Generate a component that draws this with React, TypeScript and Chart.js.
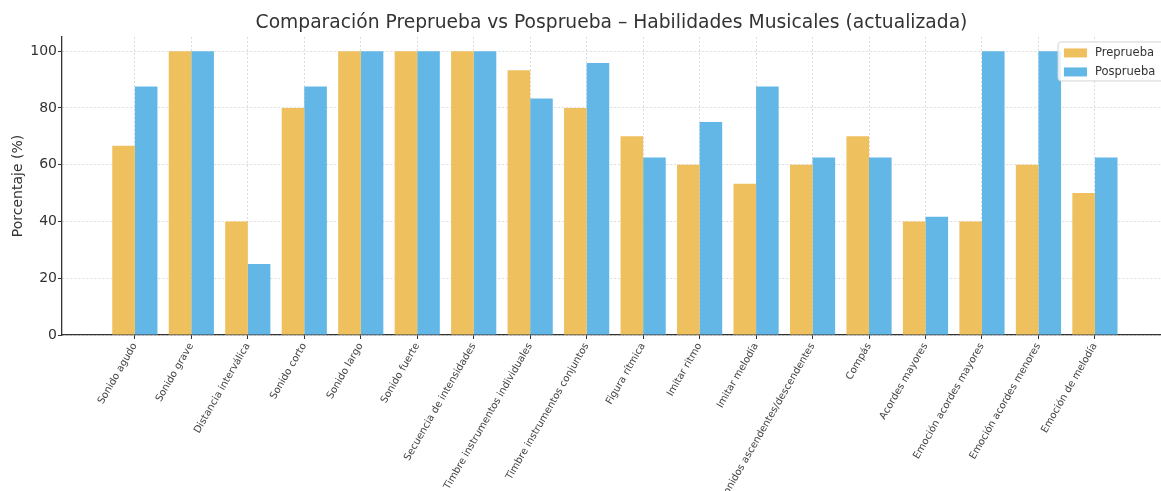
import React, { useEffect, useRef } from "react";
import { Chart, registerables } from "chart.js";

Chart.register(...registerables);

const categories = [
  "Sonido agudo",
  "Sonido grave",
  "Distancia interválica",
  "Sonido corto",
  "Sonido largo",
  "Sonido fuerte",
  "Secuencia de intensidades",
  "Timbre instrumentos individuales",
  "Timbre instrumentos conjuntos",
  "Figura rítmica",
  "Imitar ritmo",
  "Imitar melodía",
  "Sonidos ascendentes/descendentes",
  "Compás",
  "Acordes mayores",
  "Emoción acordes mayores",
  "Emoción acordes menores",
  "Emoción de melodía",
];

const preprueba = [66.7, 100, 40, 80, 100, 100, 100, 93.3, 80, 70, 60, 53.3, 60, 70, 40, 40, 60, 50];
const posprueba = [87.5, 100, 25, 87.5, 100, 100, 100, 83.3, 95.8, 62.5, 75, 87.5, 62.5, 62.5, 41.7, 100, 100, 62.5];

const seriesNames = ["Preprueba", "Posprueba"];
const seriesColors = ["#EFC05E", "#62B7E6"];

const yTicks = [0, 20, 40, 60, 80, 100];

const FONT = "'DejaVu Sans', sans-serif";

const legendPlugin = {
  id: "customLegend",
  afterDraw(chart: any) {
    const { ctx, chartArea } = chart;
    const x0 = chartArea.right - 103;
    const y0 = chartArea.top + 5;
    ctx.save();
    ctx.beginPath();
    const w = 120, h = 39, r = 3;
    ctx.moveTo(x0 + r, y0);
    ctx.lineTo(x0 + w - r, y0);
    ctx.arcTo(x0 + w, y0, x0 + w, y0 + r, r);
    ctx.lineTo(x0 + w, y0 + h - r);
    ctx.arcTo(x0 + w, y0 + h, x0 + w - r, y0 + h, r);
    ctx.lineTo(x0 + r, y0 + h);
    ctx.arcTo(x0, y0 + h, x0, y0 + h - r, r);
    ctx.lineTo(x0, y0 + r);
    ctx.arcTo(x0, y0, x0 + r, y0, r);
    ctx.closePath();
    ctx.fillStyle = "rgba(255,255,255,0.85)";
    ctx.fill();
    ctx.strokeStyle = "#d4d4d4";
    ctx.lineWidth = 1;
    ctx.stroke();
    chart.data.datasets.forEach((ds: any, i: number) => {
      const cy = y0 + 11 + i * 19;
      ctx.fillStyle = ds.backgroundColor;
      ctx.fillRect(x0 + 6, cy - 4.5, 23, 9);
      ctx.fillStyle = "#333";
      ctx.font = `11.5px ${FONT}`;
      ctx.textBaseline = "middle";
      ctx.textAlign = "left";
      ctx.fillText(ds.label, x0 + 37, cy);
    });
    ctx.restore();
  },
};

export default function App() {
  const ref = useRef<HTMLCanvasElement | null>(null);

  useEffect(() => {
    document.body.style.margin = "0";
    const canvas = ref.current;
    if (!canvas) return;
    const chart = new Chart(canvas, {
      type: "bar",
      data: {
        datasets: [preprueba, posprueba].map((vals, si) => ({
          label: seriesNames[si],
          data: vals.map((v, i) => ({ x: i, y: v })),
          backgroundColor: seriesColors[si],
          borderWidth: 0,
          categoryPercentage: 0.8,
          barPercentage: 1.0,
        })),
      },
      options: {
        responsive: false,
        animation: false,
        devicePixelRatio: 1,
        layout: { padding: { left: 0, right: 0, top: 0, bottom: 0 } },
        plugins: {
          legend: { display: false },
          tooltip: { enabled: false },
          title: {
            display: true,
            fullSize: false,
            text: "Comparación Preprueba vs Posprueba – Habilidades Musicales (actualizada)",
            color: "#333",
            font: { family: FONT, size: 18.7, weight: "normal" },
            padding: { top: 12, bottom: 2.5 },
          },
        },
        scales: {
          x: {
            type: "linear",
            min: -1.29,
            max: 18.17,
            offset: false,
            grid: {
              offset: false,
              color: "rgba(0,0,0,0.14)",
              lineWidth: 1,
              drawTicks: true,
              tickLength: 4,
              tickColor: "#333",
              tickWidth: 1,
              tickBorderDash: [],
            },
            border: { display: true, color: "#333", width: 1.3, dash: [2, 2] },
            ticks: {
              stepSize: 1,
              includeBounds: false,
              autoSkip: false,
              minRotation: 60,
              maxRotation: 60,
              padding: 2,
              color: "#444",
              font: { family: FONT, size: 10 },
              callback: (v: any) => categories[v] ?? "",
            },
            afterBuildTicks: (scale: any) => {
              scale.ticks = categories.map((_, i) => ({ value: i }));
            },
            afterFit: (scale: any) => {
              scale.height = 156;
            },
          },
          y: {
            min: 0,
            max: 105,
            grid: {
              color: "rgba(0,0,0,0.14)",
              lineWidth: 1,
              drawTicks: true,
              tickLength: 4,
              tickColor: "#333",
              tickWidth: 1,
              tickBorderDash: [],
            },
            border: { display: true, color: "#333", width: 1.3, dash: [2, 2] },
            ticks: {
              stepSize: 20,
              includeBounds: false,
              padding: 1,
              color: "#333",
              font: { family: FONT, size: 14 },
            },
            afterBuildTicks: (scale: any) => {
              scale.ticks = yTicks.map((v) => ({ value: v }));
            },
            title: {
              display: true,
              text: "Porcentaje (%)",
              color: "#333",
              font: { family: FONT, size: 14 },
              padding: { top: 10, bottom: 0 },
            },
            afterFit: (scale: any) => {
              scale.width = 62;
            },
          },
        },
      },
      plugins: [legendPlugin],
    } as any);
    return () => chart.destroy();
  }, []);

  return (
    <div style={{ position: "absolute", left: 0, top: 0, width: 1161, height: 491 }}>
      <canvas ref={ref} width={1161} height={491} style={{ width: 1161, height: 491 }} />
    </div>
  );
}
